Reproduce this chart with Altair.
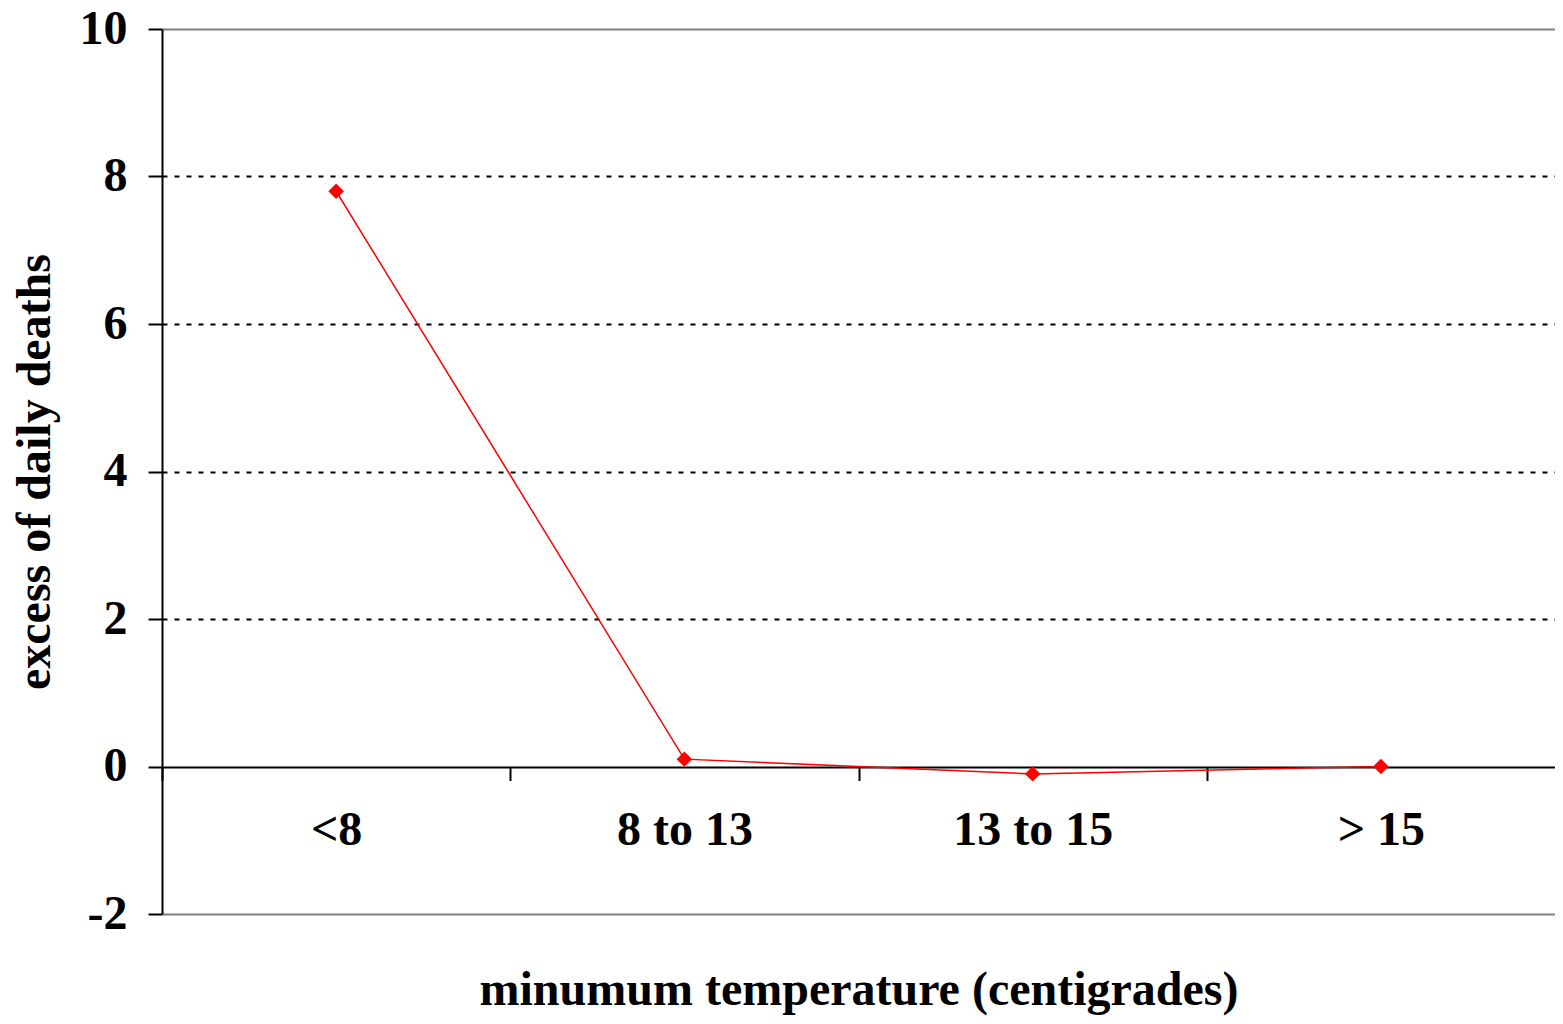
import altair as alt
import pandas as pd

categories = ["<8", "8 to 13", "13 to 15", "> 15"]
excess_deaths = [7.8, 0.1, -0.1, 0.0]
y_ticks = [-2, 0, 2, 4, 6, 8, 10]

df = pd.DataFrame({"temp": categories, "deaths": excess_deaths})

FONT = "Liberation Serif"
FS = 48

x = alt.X(
    "temp:N",
    sort=categories,
    title="minumum temperature (centigrades)",
    scale=alt.Scale(paddingInner=0, paddingOuter=0),
    axis=alt.Axis(
        orient="bottom",
        offset=-147.5,
        domain=False,
        tickBand="extent",
        tickSize=14,
        tickWidth=2,
        tickColor={"condition": {"test": "datum.value === '> 15'", "value": "transparent"}, "value": "black"},
        labelAngle=0,
        labelFont=FONT,
        labelFontSize=FS,
        labelFontWeight="bold",
        labelColor="black",
        labelPadding=26,
        titleFont=FONT,
        titleFontSize=FS,
        titleFontWeight="bold",
        titleColor="black",
        titlePadding=112,
        grid=False,
    ),
)

y = alt.Y(
    "deaths:Q",
    title="excess of daily deaths",
    scale=alt.Scale(domain=[-2, 10], nice=False, zero=False),
    axis=alt.Axis(
        values=y_ticks,
        labelExpr="'' + datum.value",
        domainColor="black",
        domainWidth=2,
        tickColor="black",
        tickWidth=2,
        tickSize=14,
        labelFont=FONT,
        labelFontSize=FS,
        labelFontWeight="bold",
        labelColor="black",
        labelPadding=21,
        titleFont=FONT,
        titleFontSize=FS,
        titleFontWeight="bold",
        titleColor="black",
        titlePadding=20,
        grid=True,
        gridColor={"condition": {"test": "datum.value == 10 || datum.value == -2", "value": "#808080"}, "value": "black"},
        gridDash={"condition": {"test": "datum.value == 0 || datum.value == 10 || datum.value == -2", "value": [1, 0]}, "value": [5, 7]},
        gridWidth=2,
        gridOpacity=1,
    ),
)

base = alt.Chart(df).encode(x=x, y=y)
line = base.mark_line(color="red", strokeWidth=1.5)
pts = base.mark_point(shape="diamond", filled=True, size=240, color="red", opacity=1)

chart = (
    alt.layer(line, pts)
    .properties(
        width=1393,
        height=885,
        autosize=alt.AutoSizeParams(type="none"),
        padding={"left": 154, "top": 21, "right": 0, "bottom": 102},
        background="white",
    )
    .configure_view(stroke=None)
)

chart.save("out.html", embed_options={"renderer": "svg", "actions": False})
